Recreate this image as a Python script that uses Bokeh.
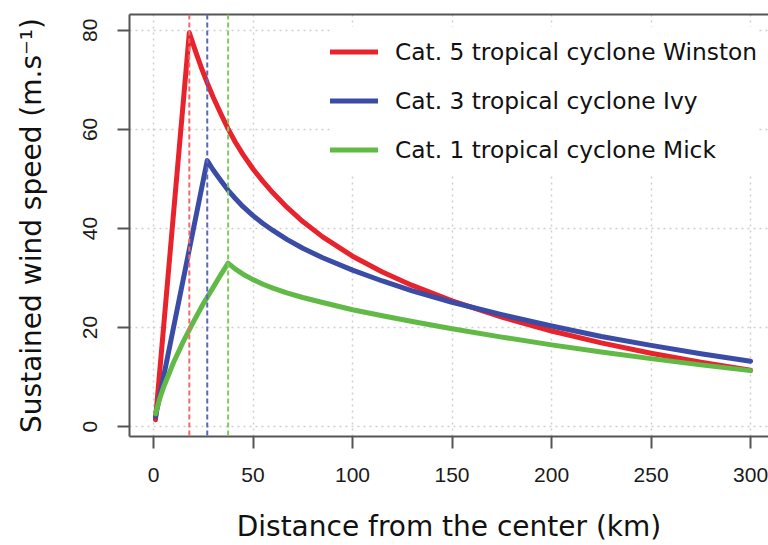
from bokeh.plotting import figure
from bokeh.models import (Range1d, Span, Legend, LegendItem, LinearAxis,
                          FixedTicker)
from bokeh.embed import file_html
from bokeh.resources import INLINE

# ---------------- data ----------------
series_names = ["Cat. 5 tropical cyclone Winston",
                "Cat. 3 tropical cyclone Ivy",
                "Cat. 1 tropical cyclone Mick"]
series_colors = ["#E8232B", "#3A4CA6", "#62BA46"]
dash_colors = ["#F06A6A", "#5A68C0", "#7DCB5E"]

# radius of maximum wind (km) for each cyclone
rmax = [18, 27, 37.5]

winston_r = [1, 18, 21, 24, 27, 30, 34, 37.5, 41, 45, 50, 55, 60, 67, 75, 85,
             100, 115, 130, 150, 175, 200, 225, 250, 275, 300]
winston_v = [1.4, 79.5, 75.9, 72.5, 69.4, 66.5, 63.0, 60.1, 57.5, 54.9, 52.0,
             49.5, 47.2, 44.3, 41.4, 38.3, 34.4, 31.2, 28.5, 25.4, 22.1, 19.3,
             16.9, 14.8, 13.0, 11.4]

ivy_r = [1, 27, 30, 34, 37.5, 41, 45, 50, 55, 60, 67, 75, 85, 100, 115, 130,
         150, 175, 200, 225, 250, 275, 300]
ivy_v = [2.0, 53.7, 51.8, 49.6, 47.7, 46.1, 44.4, 42.6, 41.0, 39.6, 37.8, 36.0,
         34.1, 31.6, 29.4, 27.4, 25.1, 22.6, 20.3, 18.2, 16.4, 14.7, 13.2]

mick_r = [1, 3, 5, 10, 15, 20, 25, 30, 34, 37.5, 41, 45, 50, 55, 60, 67, 75,
          85, 100, 115, 130, 150, 175, 200, 225, 250, 275, 300]
mick_v = [2.6, 5.5, 7.9, 12.9, 17.2, 21.1, 24.8, 28.1, 30.8, 33.0, 31.85,
          30.77, 29.67, 28.74, 27.95, 27.0, 26.06, 25.06, 23.6, 22.38, 21.22,
          19.76, 18.07, 16.5, 15.06, 13.72, 12.46, 11.3]

x_ticks = [0, 50, 100, 150, 200, 250, 300]
y_ticks = [0, 20, 40, 60, 80]

# ---------------- figure ----------------
p = figure(width=768, height=545,
           x_range=Range1d(-12.06, 309.0), y_range=Range1d(-2.0, 83.2),
           output_backend="svg", toolbar_location=None,
           min_border_left=129, min_border_right=0,
           min_border_top=14, min_border_bottom=107)
p.outline_line_color = None
p.background_fill_color = "white"
p.border_fill_color = "white"

axis_col = "#555555"
for ax in p.xaxis + p.yaxis:
    ax.axis_line_color = axis_col
    ax.axis_line_width = 2
    ax.major_tick_line_color = axis_col
    ax.major_tick_line_width = 2
    ax.major_tick_in = 0
    ax.major_tick_out = 12
    ax.minor_tick_line_color = None
    ax.major_label_text_font = "Liberation Sans"
    ax.major_label_text_font_size = "21px"
    ax.major_label_text_color = "#1a1a1a"
    ax.axis_label_text_font = "DejaVu Sans"
    ax.axis_label_text_font_size = "28px"
    ax.axis_label_text_font_style = "normal"
    ax.axis_label_text_color = "#111111"

p.xaxis.ticker = FixedTicker(ticks=x_ticks)
p.yaxis.ticker = FixedTicker(ticks=y_ticks)
p.xaxis.axis_label = "Distance from the center (km)"
p.yaxis.axis_label = "Sustained wind speed (m.s\u207b\u00b9)"
p.yaxis.major_label_orientation = "vertical"
p.xaxis.major_label_standoff = 19
p.xaxis.axis_label_standoff = 25
p.yaxis.major_label_standoff = 20
p.yaxis.axis_label_standoff = 33

# top frame border
top = LinearAxis(ticker=FixedTicker(ticks=[]), axis_line_color=axis_col,
                 axis_line_width=2, major_tick_line_color=None,
                 minor_tick_line_color=None, major_label_text_font_size="0px",
                 major_label_standoff=0)
p.add_layout(top, "above")

for g in (p.xgrid, p.ygrid):
    g.grid_line_color = "#cfcfcf"
    g.grid_line_dash = "2 4"
    g.grid_line_width = 1.5
p.xgrid.ticker = FixedTicker(ticks=x_ticks)
p.ygrid.ticker = FixedTicker(ticks=y_ticks)

renderers = []
for (rr, vv), col in zip([(winston_r, winston_v), (ivy_r, ivy_v),
                          (mick_r, mick_v)], series_colors):
    r = p.line(rr, vv, line_color=col, line_width=5,
               line_cap="round", line_join="round")
    renderers.append(r)

for loc, col in zip(rmax, dash_colors):
    p.add_layout(Span(location=loc, dimension="height", line_color=col,
                      line_width=2, line_dash="5 3"))

legend = Legend(items=[LegendItem(label=n, renderers=[r])
                       for n, r in zip(series_names, renderers)],
                location=(201, 262), border_line_color=None,
                background_fill_color="white", background_fill_alpha=1.0,
                padding=10, spacing=0, margin=0,
                glyph_width=48, glyph_height=49, label_height=49,
                label_standoff=17, label_text_font="DejaVu Sans",
                label_text_font_size="23.3px", label_text_color="#111111")
p.add_layout(legend, "center")

open("out.html", "w").write(file_html(p, INLINE))
